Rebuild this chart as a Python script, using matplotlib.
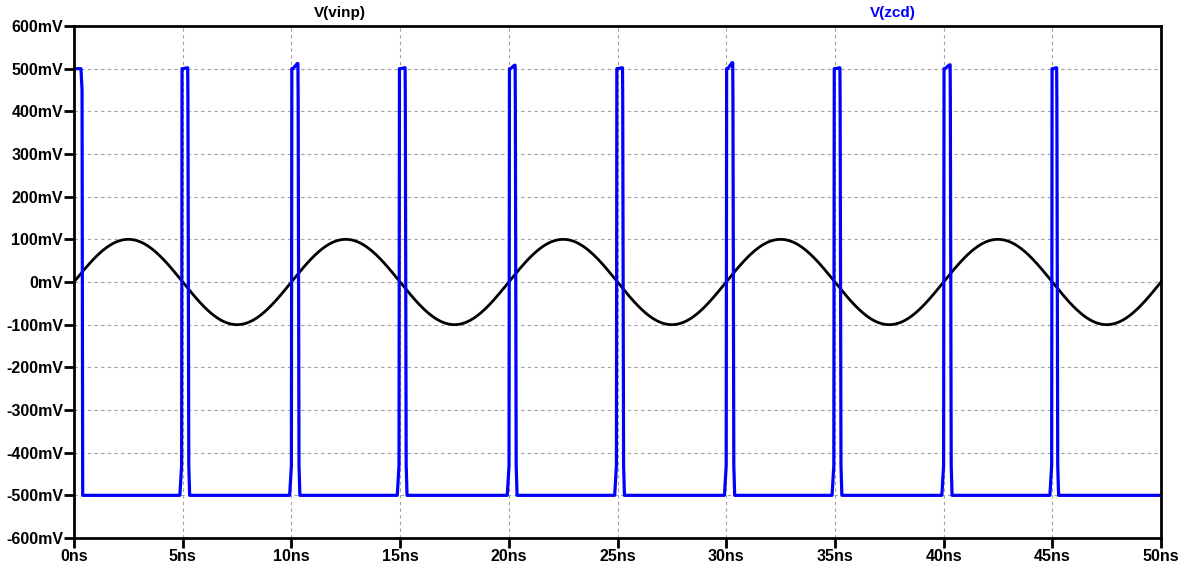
import numpy as np
import matplotlib
matplotlib.use("Agg")
import matplotlib.pyplot as plt

# ---- data ----
vinp_amplitude_mV = 100.0
vinp_period_ns = 10.0
t_end_ns = 50.0

zcd_low_mV = -500.0
zcd_high_mV = 500.0
pulse_rise_ns = [0.0, 4.97, 10.02, 14.97, 20.03, 24.97, 30.02, 34.97, 40.02, 44.99]
pulse_fall_ns = [0.37, 5.28, 10.35, 15.28, 20.34, 25.28, 30.35, 35.28, 40.35, 45.25]
pulse_peak_mV = [502, 502, 512, 502, 508, 502, 514, 502, 509, 502]

x_ticks_labels = ["0ns", "5ns", "10ns", "15ns", "20ns", "25ns", "30ns", "35ns", "40ns", "45ns", "50ns"]
y_ticks_labels = ["-600mV", "-500mV", "-400mV", "-300mV", "-200mV", "-100mV", "0mV",
                  "100mV", "200mV", "300mV", "400mV", "500mV", "600mV"]

# ---- build traces ----
t_sine = np.linspace(0, t_end_ns, 2001)
v_sine = vinp_amplitude_mV * np.sin(2 * np.pi * t_sine / vinp_period_ns)

zt, zv = [], []
for r, f, pk in zip(pulse_rise_ns, pulse_fall_ns, pulse_peak_mV):
    if r <= 0:
        zt += [0.0, f - 0.05, f, f + 0.03]
        zv += [zcd_high_mV, zcd_high_mV, 450, zcd_low_mV]
    else:
        zt += [r - 0.10, r - 0.02, r, r + 0.05, f - 0.08, f - 0.05, f - 0.04, f, f + 0.04]
        zv += [zcd_low_mV, -430, zcd_high_mV, zcd_high_mV, pk, pk, 430, -430, zcd_low_mV]
zt += [t_end_ns]
zv += [zcd_low_mV]

plt.rcParams['font.family'] = ['Liberation Sans', 'DejaVu Sans']
fig = plt.figure(figsize=(11.89, 5.72), dpi=100)
ax = fig.add_axes([74 / 1189, 1 - 538 / 572, (1161 - 74) / 1189, (538 - 26) / 572])

ax.plot(t_sine, v_sine, color='black', lw=2.0)
ax.plot(zt, zv, color='#0000ff', lw=2.3)

ax.set_xlim(0, t_end_ns)
ax.set_ylim(-600, 600)
ax.set_xticks(np.arange(0, 51, 5))
ax.set_xticklabels(x_ticks_labels)
ax.set_yticks(np.arange(-600, 601, 100))
ax.set_yticklabels(y_ticks_labels)
for lab in ax.get_xticklabels() + ax.get_yticklabels():
    lab.set_fontweight('bold')
    lab.set_fontsize(11.5)
ax.tick_params(axis='both', direction='out', length=7, width=2, color='black', pad=1)
ax.grid(True, color='#a0a0a0', ls=(0, (3, 3)), lw=0.8)
for s in ax.spines.values():
    s.set_linewidth(2)
    s.set_color('black')

fig.text(340 / 1189, 1 - 13 / 572, "V(vinp)", ha='center', va='center',
         fontsize=11, fontweight='bold', color='black')
fig.text(893 / 1189, 1 - 13 / 572, "V(zcd)", ha='center', va='center',
         fontsize=11, fontweight='bold', color='#0000ff')

fig.savefig("out.png", dpi=100)
